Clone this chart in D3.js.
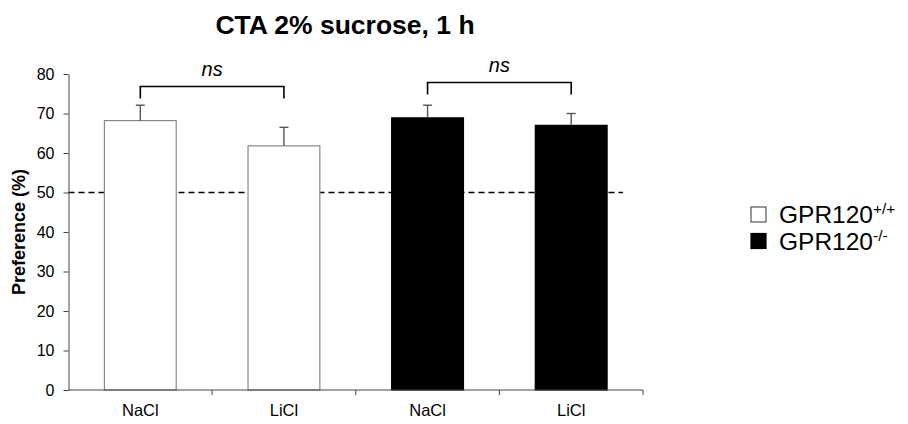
<!DOCTYPE html>
<html><head><meta charset="utf-8">
<script src="https://cdn.jsdelivr.net/npm/d3@7"></script>
<style>body{margin:0;background:#fff;} text{font-family:"Liberation Sans",Arial,sans-serif;}</style>
</head><body><svg id="c" width="908" height="424"></svg>
<script>
const categories = ["NaCl","LiCl","NaCl","LiCl"];
const groups = ["GPR120+/+","GPR120+/+","GPR120-/-","GPR120-/-"];
const means = [68.2, 61.8, 68.9, 67.0];
const sems = [3.9, 4.7, 3.2, 3.0];
const yTicks = [0,10,20,30,40,50,60,70,80];
const legendLabels = [["GPR120","+/+"],["GPR120","-/-"]];
const brackets = [[0,1,"ns"],[2,3,"ns"]];

const svg = d3.select("#c");
const x0 = 68.5, x1 = 643, yTop = 74, yBot = 390;
const x = d3.scaleBand().domain(d3.range(categories.length)).range([x0,x1]).paddingInner(0.5).paddingOuter(0.25);
const y = d3.scaleLinear().domain([0,80]).range([yBot,yTop]);
const color = g => g==="GPR120-/-" ? "#000" : "#fff";

// title
svg.append("text").attr("x",345).attr("y",34).attr("text-anchor","middle")
  .attr("font-size","26.5px").attr("font-weight","bold").text("CTA 2% sucrose, 1 h");

// dashed line at 50
svg.append("line").attr("x1",x0).attr("x2",623).attr("y1",y(50)).attr("y2",y(50))
  .attr("stroke","#000").attr("stroke-width",1.6).attr("stroke-dasharray","6,4");

// bars
svg.selectAll("rect.bar").data(means).join("rect").attr("class","bar")
  .attr("x",(d,i)=>x(i)).attr("width",x.bandwidth())
  .attr("y",d=>y(d)).attr("height",d=>yBot-y(d))
  .attr("fill",(d,i)=>color(groups[i]))
  .attr("stroke",(d,i)=>groups[i]==="GPR120-/-"?"#000":"#888").attr("stroke-width",1.2);

// error bars
means.forEach((m,i)=>{
  const cx = x(i)+x.bandwidth()/2;
  svg.append("line").attr("x1",cx).attr("x2",cx).attr("y1",y(m)).attr("y2",y(m+sems[i]))
    .attr("stroke","#555").attr("stroke-width",1.4);
  svg.append("line").attr("x1",cx-4.5).attr("x2",cx+4.5).attr("y1",y(m+sems[i])).attr("y2",y(m+sems[i]))
    .attr("stroke","#555").attr("stroke-width",1.4);
});

// y axis
const yAx = svg.append("g").attr("transform",`translate(${x0},0)`)
  .call(d3.axisLeft(y).tickValues(yTicks).tickSize(5).tickSizeOuter(0).tickPadding(9));
yAx.select(".domain").attr("stroke","#444");
yAx.selectAll(".tick line").attr("stroke","#444");
yAx.selectAll(".tick text").attr("font-size","16px").attr("fill","#000").attr("font-family","Liberation Sans, Arial, sans-serif");

// x axis line
svg.append("line").attr("x1",x0).attr("x2",x1).attr("y1",yBot).attr("y2",yBot).attr("stroke","#444").attr("stroke-width",1.2);
d3.range(1,categories.length+1).forEach(k=>{
  const tx = x0 + (x1-x0)*k/categories.length;
  svg.append("line").attr("x1",tx).attr("x2",tx).attr("y1",yBot).attr("y2",yBot+5).attr("stroke","#444");
});
svg.selectAll("text.xl").data(categories).join("text").attr("class","xl")
  .attr("x",(d,i)=>x(i)+x.bandwidth()/2).attr("y",416).attr("text-anchor","middle")
  .attr("font-size","16.5px").text(d=>d);

// y label
svg.append("text").attr("transform","translate(25,232) rotate(-90)").attr("text-anchor","middle")
  .attr("font-size","18px").attr("font-weight","bold").text("Preference (%)");

// brackets
const bTop = [86.5, 82.5];
brackets.forEach((b,k)=>{
  const xa = x(b[0])+x.bandwidth()/2, xb = x(b[1])+x.bandwidth()/2;
  const yt = bTop[k];
  svg.append("path").attr("d",`M${xa},${yt+12}V${yt}H${xb}V${yt+12}`)
    .attr("fill","none").attr("stroke","#000").attr("stroke-width",1.6);
  svg.append("text").attr("x",(xa+xb)/2).attr("y",yt-11).attr("text-anchor","middle")
    .attr("font-size","20px").attr("font-style","italic").text(b[2]);
});

// legend
legendLabels.forEach((l,i)=>{
  const ly = 207 + i*26.5;
  svg.append("rect").attr("x",751).attr("y",ly).attr("width",15).attr("height",15)
    .attr("fill",i===0?"#fff":"#000").attr("stroke",i===0?"#555":"#000").attr("stroke-width",1.2);
  const t = svg.append("text").attr("x",779).attr("y",ly+16).attr("font-size","24.5px");
  t.append("tspan").text(l[0]);
  t.append("tspan").attr("font-size","15.5px").attr("dy","-9").text(l[1]);
});
</script></body></html>
